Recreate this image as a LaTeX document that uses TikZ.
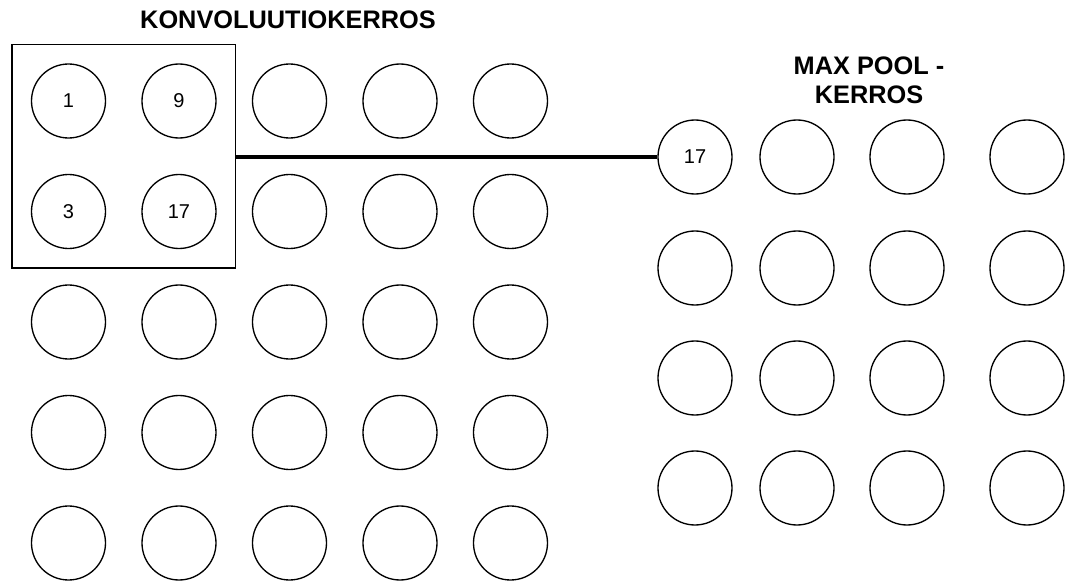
\documentclass[tikz,border=0pt]{standalone}
\usepackage{fontspec}
\setmainfont{Liberation Sans}
\usepackage{tikz}
\usetikzlibrary{positioning, fit}

\begin{document}
\begin{tikzpicture}[x=0.75pt, y=-0.75pt,
  neuron/.style={draw, circle, line width=1pt, minimum size=55.5pt, inner sep=0pt},
  value/.style={inner sep=0pt, font=\fontsize{15}{17}\selectfont},
  heading/.style={font=\fontsize{19}{21.75}\selectfont\bfseries, align=center}]
  \useasboundingbox (0,0) rectangle (1065,581);

  % konvoluutiokerros 5x5
  \node[heading] (convtitle) at (288,20) {KONVOLUUTIOKERROS};
  \foreach \r in {1,...,5}
    \foreach \c in {1,...,5}
      \node[neuron] (c\r\c) at ({68.5+110.5*(\c-1)}, {101+110.5*(\r-1)}) {};
  \foreach \r/\c/\v in {1/1/1, 1/2/9, 2/1/3, 2/2/17}
    \node[value] (v\r\c) at (c\r\c) {\v};
  \node[draw, line width=1.1pt, fit=(c11)(c22), inner sep=14pt] (win) {};

  % max pool 4x4
  \node[heading] (pooltitle) at (869,80) {MAX POOL -\\KERROS};
  \foreach \r/\y in {1/157, 2/268, 3/378, 4/488}
    \foreach \c/\x in {1/695, 2/797, 3/907, 4/1027}
      \node[neuron] (p\r\c) at (\x,\y) {};
  \node[value] (w11) at (p11) {17};

  \draw[line width=3pt] (win.east |- p11.west) -- (p11.west);
\end{tikzpicture}
\end{document}
